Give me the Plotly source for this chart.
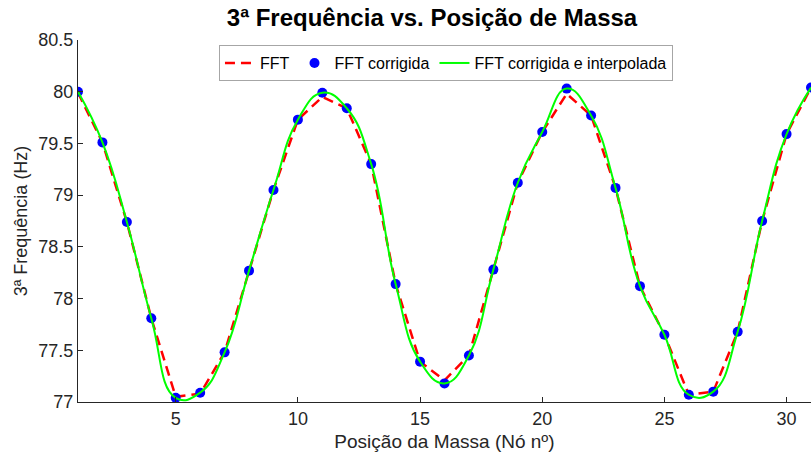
import plotly.graph_objects as go

# Mass position along the structure (node number)
posicao = list(range(1, 32))

# Third natural frequency from the raw FFT peak (Hz)
fft_bruta = [79.99, 79.51, 78.74, 77.81, 77.05, 77.08, 77.48, 78.27, 79.05, 79.73,
             79.95, 79.84, 79.30, 78.14, 77.39, 77.21, 77.45, 78.28, 79.12, 79.61,
             79.98, 79.77, 79.07, 78.12, 77.65, 77.07, 77.10, 77.68, 78.75, 79.59,
             80.04]

# Third natural frequency after the peak correction (Hz)
fft_corrigida = [80.00, 79.51, 78.74, 77.81, 77.04, 77.09, 77.48, 78.27, 79.05, 79.73,
                 79.99, 79.84, 79.30, 78.14, 77.39, 77.18, 77.45, 78.28, 79.12, 79.61,
                 80.03, 79.77, 79.07, 78.12, 77.65, 77.07, 77.10, 77.68, 78.75, 79.59,
                 80.04]

x_ticks = [5, 10, 15, 20, 25, 30]
y_ticks = [77, 77.5, 78, 78.5, 79, 79.5, 80, 80.5]
y_tick_text = ["77", "77.5", "78", "78.5", "79", "79.5", "80", "80.5"]

FONT = "Liberation Sans, Arial, Helvetica, sans-serif"
INK = "#262626"

fig = go.Figure()

fig.add_trace(go.Scatter(
    x=posicao, y=fft_bruta, mode="lines", name="FFT",
    line=dict(color="#ff0000", width=2.5, dash="10px,6px"),
))
fig.add_trace(go.Scatter(
    x=posicao, y=fft_corrigida, mode="markers", name="FFT corrigida",
    marker=dict(color="#0000ff", size=10, line=dict(width=0)),
))
fig.add_trace(go.Scatter(
    x=posicao, y=fft_corrigida, mode="lines", name="FFT corrigida e interpolada",
    line=dict(color="#00ff00", width=2, shape="spline", smoothing=1.3),
))

fig.update_layout(
    width=811, height=461,
    margin=dict(l=78, r=0, t=40, b=59),
    paper_bgcolor="white", plot_bgcolor="white",
    font=dict(family=FONT, color=INK, size=17),
    title=dict(
        text="<b>3ª Frequência vs. Posição de Massa</b>",
        x=432 / 811, xref="container", xanchor="center",
        y=1 - 18 / 461, yref="container", yanchor="middle",
        font=dict(family=FONT, size=24, color="#000000"),
    ),
    legend=dict(
        orientation="h",
        x=0.502, xanchor="center", xref="paper",
        y=0.986, yanchor="top", yref="paper",
        bgcolor="white", bordercolor="#a6a6a6", borderwidth=1,
        font=dict(family=FONT, size=16, color="#000000"),
        itemwidth=30, tracegroupgap=0,
    ),
    showlegend=True,
)

fig.update_xaxes(
    range=[1, 31], tickvals=x_ticks,
    showline=True, linecolor=INK, linewidth=1,
    ticks="inside", ticklen=5, tickcolor=INK,
    showgrid=False, zeroline=False, mirror=False,
    tickfont=dict(size=18, color=INK),
    title=dict(text="Posição da Massa (Nó nº)", font=dict(size=19, color=INK), standoff=7),
)
fig.update_yaxes(
    range=[77, 80.5], tickvals=y_ticks, ticktext=y_tick_text,
    showline=True, linecolor=INK, linewidth=1,
    ticks="inside", ticklen=5, tickcolor=INK,
    showgrid=False, zeroline=False, mirror=False,
    tickfont=dict(size=18, color=INK),
    title=dict(text="3ª Frequência (Hz)", font=dict(size=18, color=INK), standoff=6),
)

fig.write_html("out.html")
